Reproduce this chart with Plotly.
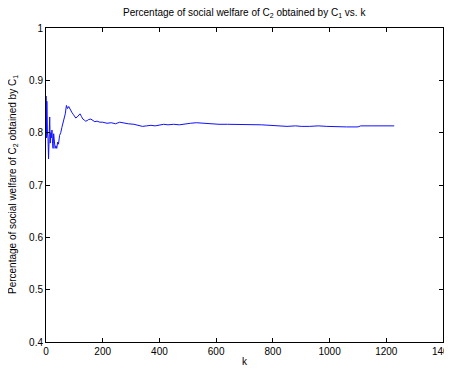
import plotly.graph_objects as go

# k values and corresponding percentage
k_vals = [1, 2, 3, 5, 7, 9, 11, 13, 15, 17, 19, 21, 23, 25, 27, 29, 32, 35, 38, 41, 44,
          48, 52, 56, 60, 64, 68, 72, 76, 80, 84, 88, 92, 96, 100, 105, 110, 115, 120,
          125, 130, 135, 140, 145, 150, 158, 165, 172, 180, 190, 200, 215, 230, 245,
          260, 275, 290, 310, 325, 340, 355, 370, 385, 400, 415, 430, 450, 470, 490,
          510, 530, 550, 570, 590, 610, 640, 680, 720, 760, 790, 820, 850, 880, 900,
          930, 960, 990, 1020, 1060, 1100, 1110, 1150, 1200, 1228]
pct_vals = [0.870, 0.790, 0.860, 0.800, 0.790, 0.750, 0.790, 0.830, 0.780, 0.800, 0.790,
            0.805, 0.780, 0.770, 0.798, 0.785, 0.770, 0.775, 0.770, 0.782, 0.778,
            0.795, 0.800, 0.810, 0.818, 0.830, 0.836, 0.852, 0.846, 0.850, 0.845, 0.842,
            0.838, 0.835, 0.832, 0.828, 0.830, 0.834, 0.836, 0.831, 0.826, 0.824, 0.822,
            0.823, 0.825, 0.826, 0.823, 0.821, 0.822, 0.820, 0.820, 0.818, 0.819, 0.817,
            0.820, 0.818, 0.817, 0.816, 0.814, 0.812, 0.813, 0.814, 0.813, 0.815, 0.816,
            0.815, 0.816, 0.815, 0.817, 0.818, 0.819, 0.818, 0.818, 0.817, 0.816, 0.816,
            0.816, 0.815, 0.815, 0.814, 0.813, 0.812, 0.813, 0.812, 0.812, 0.813, 0.812,
            0.811, 0.811, 0.811, 0.813, 0.813, 0.813, 0.813]

x_ticks = [0, 200, 400, 600, 800, 1000, 1200, 1400]
y_ticks = [0.4, 0.5, 0.6, 0.7, 0.8, 0.9, 1.0]
y_tick_text = ["0.4", "0.5", "0.6", "0.7", "0.8", "0.9", "1"]

FAM = "Liberation Sans, Arial, sans-serif"
font = dict(family=FAM, size=10, color="black")

fig = go.Figure()
fig.add_trace(go.Scatter(x=k_vals, y=pct_vals, mode="lines",
                         line=dict(color="#1010ff", width=1), showlegend=False))

axis_common = dict(showgrid=False, zeroline=False, showline=True, linecolor="black",
                   linewidth=1, mirror="ticks", ticks="inside", ticklen=4,
                   tickcolor="black", tickfont=font, automargin=False,
                   ticklabeloverflow="allow")

# the page body adds an 8px offset, so size and margins are compensated
fig.update_layout(
    width=444, height=361,
    margin=dict(l=38, r=9, t=20, b=27),
    paper_bgcolor="white", plot_bgcolor="white",
    font=font,
    xaxis=dict(range=[0, 1400], tickvals=x_ticks, **axis_common),
    yaxis=dict(range=[0.4, 1.0], tickvals=y_ticks, ticktext=y_tick_text, **axis_common),
    annotations=[
        dict(text="Percentage of social welfare of C<sub>2</sub> obtained by C<sub>1</sub> vs. k",
             xref="paper", yref="paper", x=0.5, y=1, yshift=15, xanchor="center",
             yanchor="middle", showarrow=False, font=font),
        dict(text="k", xref="paper", yref="paper", x=0.5, y=0, yshift=-19,
             xanchor="center", yanchor="middle", showarrow=False, font=font),
        dict(text="Percentage of social welfare of C<sub>2</sub> obtained by C<sub>1</sub>",
             xref="paper", yref="paper", x=0, xshift=-33, y=0.5, xanchor="center",
             yanchor="middle", textangle=-90, showarrow=False, font=font),
    ],
)

fig.write_html("out.html")
